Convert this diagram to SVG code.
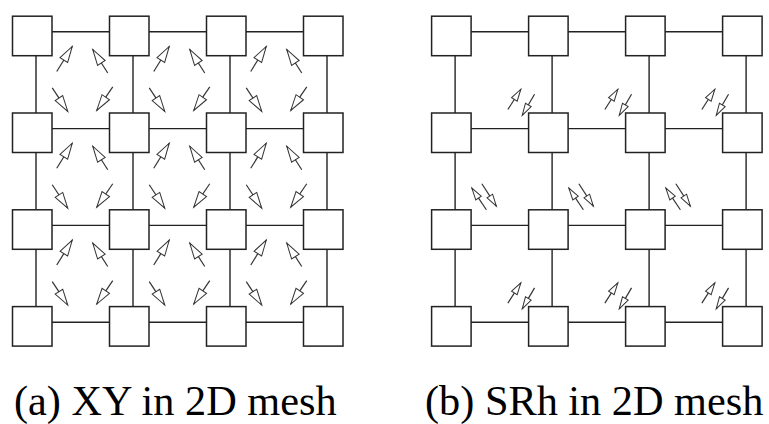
<svg xmlns="http://www.w3.org/2000/svg" xmlns:xlink="http://www.w3.org/1999/xlink" width="769" height="424" viewBox="0 0 769 424">
<style>
.box{fill:#fff;stroke:#222;stroke-width:1.5}
.link{stroke:#222;stroke-width:1.4;fill:none}
.arr{stroke:#333;stroke-width:1.2;fill:none}
.big{marker-end:url(#headBig)}
.small{marker-end:url(#headSmall)}
.cap{font-family:"Liberation Serif","Times New Roman",serif;font-size:42.3px;fill:#000}
</style>
<defs>
<marker id="headBig" viewBox="-1 -1 18 11" refX="16" refY="4.5" markerWidth="18" markerHeight="11" markerUnits="userSpaceOnUse" orient="auto" overflow="visible">
<path d="M0,0 L16,4.5 L0,9 Z" fill="#fff" stroke="#333" stroke-width="1"/>
</marker>
<marker id="headSmall" viewBox="-1 -1 14 9" refX="12" refY="3.3" markerWidth="14" markerHeight="9" markerUnits="userSpaceOnUse" orient="auto" overflow="visible">
<path d="M0,0 L12,3.3 L0,6.6 Z" fill="#fff" stroke="#333" stroke-width="1"/>
</marker>
<g id="xyCell">
<line class="arr big" x1="45" y1="56" x2="60.5" y2="31"/>
<line class="arr big" x1="96" y1="57.5" x2="81" y2="34"/>
<line class="arr big" x1="40.5" y1="72.5" x2="56" y2="96"/>
<line class="arr big" x1="101" y1="71.5" x2="85" y2="95"/>
</g>
<g id="srhA">
<line class="arr small" x1="-20" y1="-2.7" x2="-7" y2="-23"/>
<line class="arr small" x1="6.7" y1="-18" x2="-5.6" y2="3"/>
</g>
<g id="srhB">
<line class="arr small" x1="14.5" y1="0.7" x2="0" y2="-21"/>
<line class="arr small" x1="10" y1="-25.3" x2="24.5" y2="-3"/>
</g>
</defs>

<g id="connectors">
<line class="link" x1="36" y1="31.8" x2="327" y2="31.8"/>
<line class="link" x1="36" y1="128.6" x2="327" y2="128.6"/>
<line class="link" x1="36" y1="225.4" x2="327" y2="225.4"/>
<line class="link" x1="36" y1="322.2" x2="327" y2="322.2"/>
<line class="link" x1="36" y1="31.8" x2="36" y2="322.2"/>
<line class="link" x1="133" y1="31.8" x2="133" y2="322.2"/>
<line class="link" x1="230" y1="31.8" x2="230" y2="322.2"/>
<line class="link" x1="327" y1="31.8" x2="327" y2="322.2"/>
<line class="link" x1="455.1" y1="31.8" x2="746.1" y2="31.8"/>
<line class="link" x1="455.1" y1="128.6" x2="746.1" y2="128.6"/>
<line class="link" x1="455.1" y1="225.4" x2="746.1" y2="225.4"/>
<line class="link" x1="455.1" y1="322.2" x2="746.1" y2="322.2"/>
<line class="link" x1="455.1" y1="31.8" x2="455.1" y2="322.2"/>
<line class="link" x1="552.1" y1="31.8" x2="552.1" y2="322.2"/>
<line class="link" x1="649.1" y1="31.8" x2="649.1" y2="322.2"/>
<line class="link" x1="746.1" y1="31.8" x2="746.1" y2="322.2"/>
</g>

<g id="meshA">
<g id="a00"><rect class="box" x="12.5" y="16.2" width="39.5" height="39.5"/></g>
<g id="a10"><rect class="box" x="109.5" y="16.2" width="39.5" height="39.5"/></g>
<g id="a20"><rect class="box" x="206.5" y="16.2" width="39.5" height="39.5"/></g>
<g id="a30"><rect class="box" x="303.5" y="16.2" width="39.5" height="39.5"/></g>
<g id="a01"><rect class="box" x="12.5" y="113" width="39.5" height="39.5"/></g>
<g id="a11"><rect class="box" x="109.5" y="113" width="39.5" height="39.5"/></g>
<g id="a21"><rect class="box" x="206.5" y="113" width="39.5" height="39.5"/></g>
<g id="a31"><rect class="box" x="303.5" y="113" width="39.5" height="39.5"/></g>
<g id="a02"><rect class="box" x="12.5" y="209.8" width="39.5" height="39.5"/></g>
<g id="a12"><rect class="box" x="109.5" y="209.8" width="39.5" height="39.5"/></g>
<g id="a22"><rect class="box" x="206.5" y="209.8" width="39.5" height="39.5"/></g>
<g id="a32"><rect class="box" x="303.5" y="209.8" width="39.5" height="39.5"/></g>
<g id="a03"><rect class="box" x="12.5" y="306.6" width="39.5" height="39.5"/></g>
<g id="a13"><rect class="box" x="109.5" y="306.6" width="39.5" height="39.5"/></g>
<g id="a23"><rect class="box" x="206.5" y="306.6" width="39.5" height="39.5"/></g>
<g id="a33"><rect class="box" x="303.5" y="306.6" width="39.5" height="39.5"/></g>
</g>

<g id="meshB">
<g id="b00"><rect class="box" x="431.6" y="16.2" width="39.5" height="39.5"/></g>
<g id="b10"><rect class="box" x="528.6" y="16.2" width="39.5" height="39.5"/></g>
<g id="b20"><rect class="box" x="625.6" y="16.2" width="39.5" height="39.5"/></g>
<g id="b30"><rect class="box" x="722.6" y="16.2" width="39.5" height="39.5"/></g>
<g id="b01"><rect class="box" x="431.6" y="113" width="39.5" height="39.5"/></g>
<g id="b11"><rect class="box" x="528.6" y="113" width="39.5" height="39.5"/></g>
<g id="b21"><rect class="box" x="625.6" y="113" width="39.5" height="39.5"/></g>
<g id="b31"><rect class="box" x="722.6" y="113" width="39.5" height="39.5"/></g>
<g id="b02"><rect class="box" x="431.6" y="209.8" width="39.5" height="39.5"/></g>
<g id="b12"><rect class="box" x="528.6" y="209.8" width="39.5" height="39.5"/></g>
<g id="b22"><rect class="box" x="625.6" y="209.8" width="39.5" height="39.5"/></g>
<g id="b32"><rect class="box" x="722.6" y="209.8" width="39.5" height="39.5"/></g>
<g id="b03"><rect class="box" x="431.6" y="306.6" width="39.5" height="39.5"/></g>
<g id="b13"><rect class="box" x="528.6" y="306.6" width="39.5" height="39.5"/></g>
<g id="b23"><rect class="box" x="625.6" y="306.6" width="39.5" height="39.5"/></g>
<g id="b33"><rect class="box" x="722.6" y="306.6" width="39.5" height="39.5"/></g>
</g>

<g id="turnsXY">
<use xlink:href="#xyCell" x="11.75" y="15.45"/>
<use xlink:href="#xyCell" x="108.75" y="15.45"/>
<use xlink:href="#xyCell" x="205.75" y="15.45"/>
<use xlink:href="#xyCell" x="11.75" y="112.25"/>
<use xlink:href="#xyCell" x="108.75" y="112.25"/>
<use xlink:href="#xyCell" x="205.75" y="112.25"/>
<use xlink:href="#xyCell" x="11.75" y="209.05"/>
<use xlink:href="#xyCell" x="108.75" y="209.05"/>
<use xlink:href="#xyCell" x="205.75" y="209.05"/>
</g>

<g id="turnsSRh">
<use xlink:href="#srhA" x="527.85" y="112.25"/>
<use xlink:href="#srhA" x="624.85" y="112.25"/>
<use xlink:href="#srhA" x="721.85" y="112.25"/>
<use xlink:href="#srhB" x="471.85" y="209.05"/>
<use xlink:href="#srhB" x="568.85" y="209.05"/>
<use xlink:href="#srhB" x="665.85" y="209.05"/>
<use xlink:href="#srhA" x="527.85" y="305.85"/>
<use xlink:href="#srhA" x="624.85" y="305.85"/>
<use xlink:href="#srhA" x="721.85" y="305.85"/>
</g>

<text class="cap" x="14" y="414.5">(a) XY in 2D mesh</text>
<text class="cap" x="425" y="414.5">(b) SRh in 2D mesh</text>
</svg>
